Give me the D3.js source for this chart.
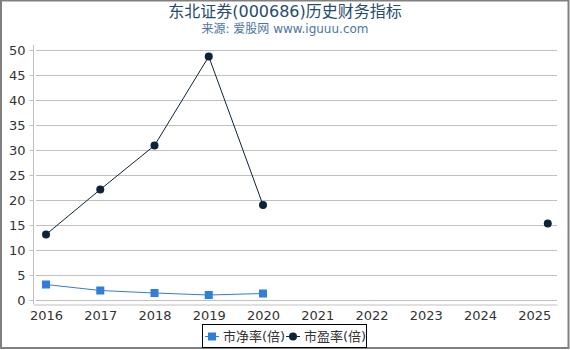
<!DOCTYPE html>
<html><head><meta charset="utf-8">
<script src="https://cdn.jsdelivr.net/npm/d3@7"></script>
<style>body{margin:0;background:#fff}svg{display:block;font-family:"DejaVu Sans","Noto Sans CJK SC",sans-serif}</style>
</head><body><svg id="c" width="570" height="350"></svg>
<script>
const years = [2016,2017,2018,2019,2020,2021,2022,2023,2024,2025];
const pbX = [2016,2017,2018,2019,2020];
const pbValues = [3.1,1.9,1.4,1.0,1.3];
const peX = [2016,2017,2018,2019,2020,2025.25];
const peValues = [13.1,22.1,30.9,48.7,19.0,15.3];
const yTicks = [0,5,10,15,20,25,30,35,40,45,50];
const title = "东北证券(000686)历史财务指标";
const subtitle = "来源: 爱股网 www.iguuu.com";
const seriesNames = ["市净率(倍)","市盈率(倍)"];
const colors = ["#2f7ed8","#0d233a"];

const svg = d3.select("#c");
const x = d3.scaleLinear().domain([2015.76,2025.42]).range([33,557]);
const y = d3.scaleLinear().domain([0,50]).range([300,50]);

svg.append("rect").attr("x",1).attr("y",0.5).attr("width",567.5).attr("height",347.5)
  .attr("fill","none").attr("stroke","#808080").attr("stroke-width",2);

svg.append("text").attr("x",285).attr("y",17).attr("text-anchor","middle")
  .attr("font-size",16).attr("fill","#274b6d").text(title);
svg.append("text").attr("x",285).attr("y",33).attr("text-anchor","middle")
  .attr("font-size",12).attr("fill","#4d759e").text(subtitle);

// grid
svg.append("g").selectAll("line").data(yTicks).join("line")
  .attr("x1",36).attr("x2",557).attr("y1",d=>Math.round(y(d))+0.5).attr("y2",d=>Math.round(y(d))+0.5)
  .attr("stroke","#c0c0c0").attr("stroke-width",1);

// y axis
const ya = svg.append("g").attr("transform","translate(33.5,0)")
  .call(d3.axisLeft(y).tickValues(yTicks).tickSize(4).tickPadding(4).tickFormat(d3.format("d")));
ya.select(".domain").attr("d","M0,45V304").attr("stroke","#c0c0c0");
ya.selectAll(".tick line").attr("stroke","#c0c0c0").attr("x2",-4);
ya.selectAll("text").attr("font-size",13).attr("fill","#333").attr("font-family","DejaVu Sans");

// x axis
const xa = svg.append("g").attr("transform","translate(0,304.5)")
  .call(d3.axisBottom(x).tickValues(years).tickSize(0).tickPadding(6).tickFormat(d3.format("d")));
xa.select(".domain").attr("stroke","#c0c0c0");
xa.selectAll("text").attr("font-size",13).attr("fill","#333").attr("font-family","DejaVu Sans");

// series
const pb = pbX.map((d,i)=>[d,pbValues[i]]);
const pe = peX.map((d,i)=>[d,peValues[i]]);
const line = d3.line().x(d=>x(d[0])).y(d=>y(d[1]));
svg.append("path").attr("d",line(pb.slice(0,5))).attr("fill","none").attr("stroke",colors[0]).attr("stroke-width",1);
svg.append("path").attr("d",line(pe.slice(0,5))).attr("fill","none").attr("stroke",colors[1]).attr("stroke-width",1);
svg.append("g").selectAll("rect").data(pb).join("rect")
  .attr("x",d=>x(d[0])-4).attr("y",d=>y(d[1])-4).attr("width",8).attr("height",8).attr("fill",colors[0]);
svg.append("g").selectAll("circle").data(pe).join("circle")
  .attr("cx",d=>x(d[0])).attr("cy",d=>y(d[1])).attr("r",4).attr("fill",colors[1]);

// legend
const lg = svg.append("g");
lg.append("rect").attr("x",202.5).attr("y",324.5).attr("width",164).attr("height",23)
  .attr("fill","#fff").attr("stroke","#000").attr("stroke-width",1);
const items = [{x:205,c:colors[0],s:"rect",t:seriesNames[0]},{x:286,c:colors[1],s:"circle",t:seriesNames[1]}];
items.forEach(it=>{
  lg.append("line").attr("x1",it.x).attr("x2",it.x+14).attr("y1",336.5).attr("y2",336.5).attr("stroke",it.c).attr("stroke-width",1);
  if(it.s==="rect") lg.append("rect").attr("x",it.x+3).attr("y",332.5).attr("width",8).attr("height",8).attr("fill",it.c);
  else lg.append("circle").attr("cx",it.x+7).attr("cy",336.5).attr("r",4).attr("fill",it.c);
  lg.append("text").attr("x",it.x+18).attr("y",341).attr("font-size",13).attr("fill","#333").text(it.t);
});
</script></body></html>
